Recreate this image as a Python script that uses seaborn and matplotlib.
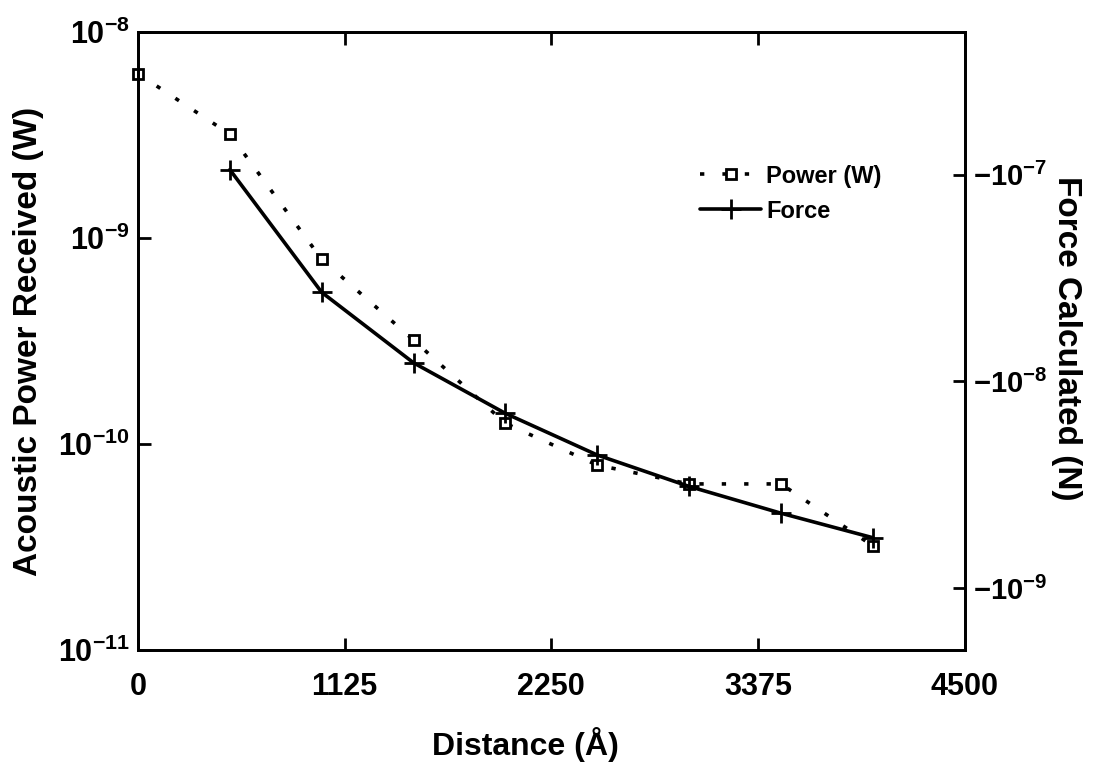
import math
import seaborn as sns
import matplotlib.pyplot as plt
from matplotlib.ticker import FixedLocator, FuncFormatter, NullLocator

# data
distance_power = [0, 500, 1000, 1500, 2000, 2500, 3000, 3500, 4000]
power_w = [6.3e-9, 3.2e-9, 7.9e-10, 3.2e-10, 1.26e-10, 7.9e-11, 6.4e-11, 6.4e-11, 3.2e-11]

distance_force = [500, 1000, 1500, 2000, 2500, 3000, 3500, 4000]
force_mag = [1.06e-7, 2.7e-8, 1.23e-8, 7.0e-9, 4.4e-9, 3.1e-9, 2.3e-9, 1.75e-9]  # |F|, force is negative

x_ticks = [0, 1125, 2250, 3375, 4500]
left_ticks = [1e-11, 1e-10, 1e-9, 1e-8]
right_ticks = [1e-9, 1e-8, 1e-7]

sns.set_style("ticks")
plt.rcParams['font.family'] = ['Liberation Sans', 'DejaVu Sans']
plt.rcParams['font.weight'] = 'bold'
plt.rcParams['mathtext.fontset'] = 'custom'
plt.rcParams['mathtext.rm'] = 'Liberation Sans:bold'
plt.rcParams['mathtext.bf'] = 'Liberation Sans:bold'
plt.rcParams['mathtext.default'] = 'bf'
plt.rcParams['axes.linewidth'] = 2
for key in ['text.color', 'axes.labelcolor', 'axes.edgecolor', 'xtick.color', 'ytick.color']:
    plt.rcParams[key] = 'black'

fig = plt.figure(figsize=(10.95, 7.70), dpi=100)
ax = fig.add_axes([0.126, 0.156, 0.755, 0.802])
ax2 = ax.twinx()

sns.lineplot(x=distance_power, y=power_w, ax=ax, color='black',
             linestyle=(0, (1.2, 5)), linewidth=2.6, marker='s', markersize=7,
             markerfacecolor='white', markeredgecolor='black', markeredgewidth=2,
             clip_on=False, label='Power (W)')
sns.lineplot(x=distance_force, y=force_mag, ax=ax2, color='black',
             linestyle='-', linewidth=2.6, marker='+', markersize=15,
             markeredgecolor='black', markeredgewidth=2, label='Force')

ax.set_yscale('log')
ax.set_ylim(1e-11, 1e-8)
ax.set_xlim(0, 4500)
ax2.set_yscale('log')
ax2.set_ylim(10 ** -9.30, 10 ** -6.31)

ax.xaxis.set_major_locator(FixedLocator(x_ticks))
ax.yaxis.set_major_locator(FixedLocator(left_ticks))
ax.yaxis.set_minor_locator(NullLocator())
ax2.yaxis.set_major_locator(FixedLocator(right_ticks))
ax2.yaxis.set_minor_locator(NullLocator())

ax.yaxis.set_major_formatter(FuncFormatter(lambda v, p: r'$10^{%d}$' % round(math.log10(v))))
ax2.yaxis.set_major_formatter(FuncFormatter(lambda v, p: r'$-10^{%d}$' % round(math.log10(v))))

ax.tick_params(axis='both', direction='in', length=9, width=2, labelsize=22, pad=6, top=True)
ax.tick_params(axis='x', pad=16)
ax2.tick_params(axis='y', direction='in', length=9, width=2, labelsize=21, pad=6)

ax.set_xlabel('Distance (Å)', fontsize=23, fontweight='bold', va='center')
ax.xaxis.set_label_coords(0.469, -0.154)
ax.set_ylabel('Acoustic Power Received (W)', fontsize=24, fontweight='bold',
              va='center', rotation_mode='anchor')
ax.yaxis.set_label_coords(-0.132, 0.5)
ax2.set_ylabel('Force Calculated (N)', fontsize=24, fontweight='bold', rotation=270,
               va='center', rotation_mode='anchor')
ax2.yaxis.set_label_coords(1.123, 0.505)

# one legend for both series
h1, l1 = ax.get_legend_handles_labels()
h2, l2 = ax2.get_legend_handles_labels()
ax.get_legend().remove()
ax2.legend(h1 + h2, l1 + l2, loc='upper right', bbox_to_anchor=(0.925, 0.82),
           frameon=False, fontsize=17, handlelength=2.6, handletextpad=0.2,
           labelspacing=0.5)

fig.savefig('out.png', dpi=100)
